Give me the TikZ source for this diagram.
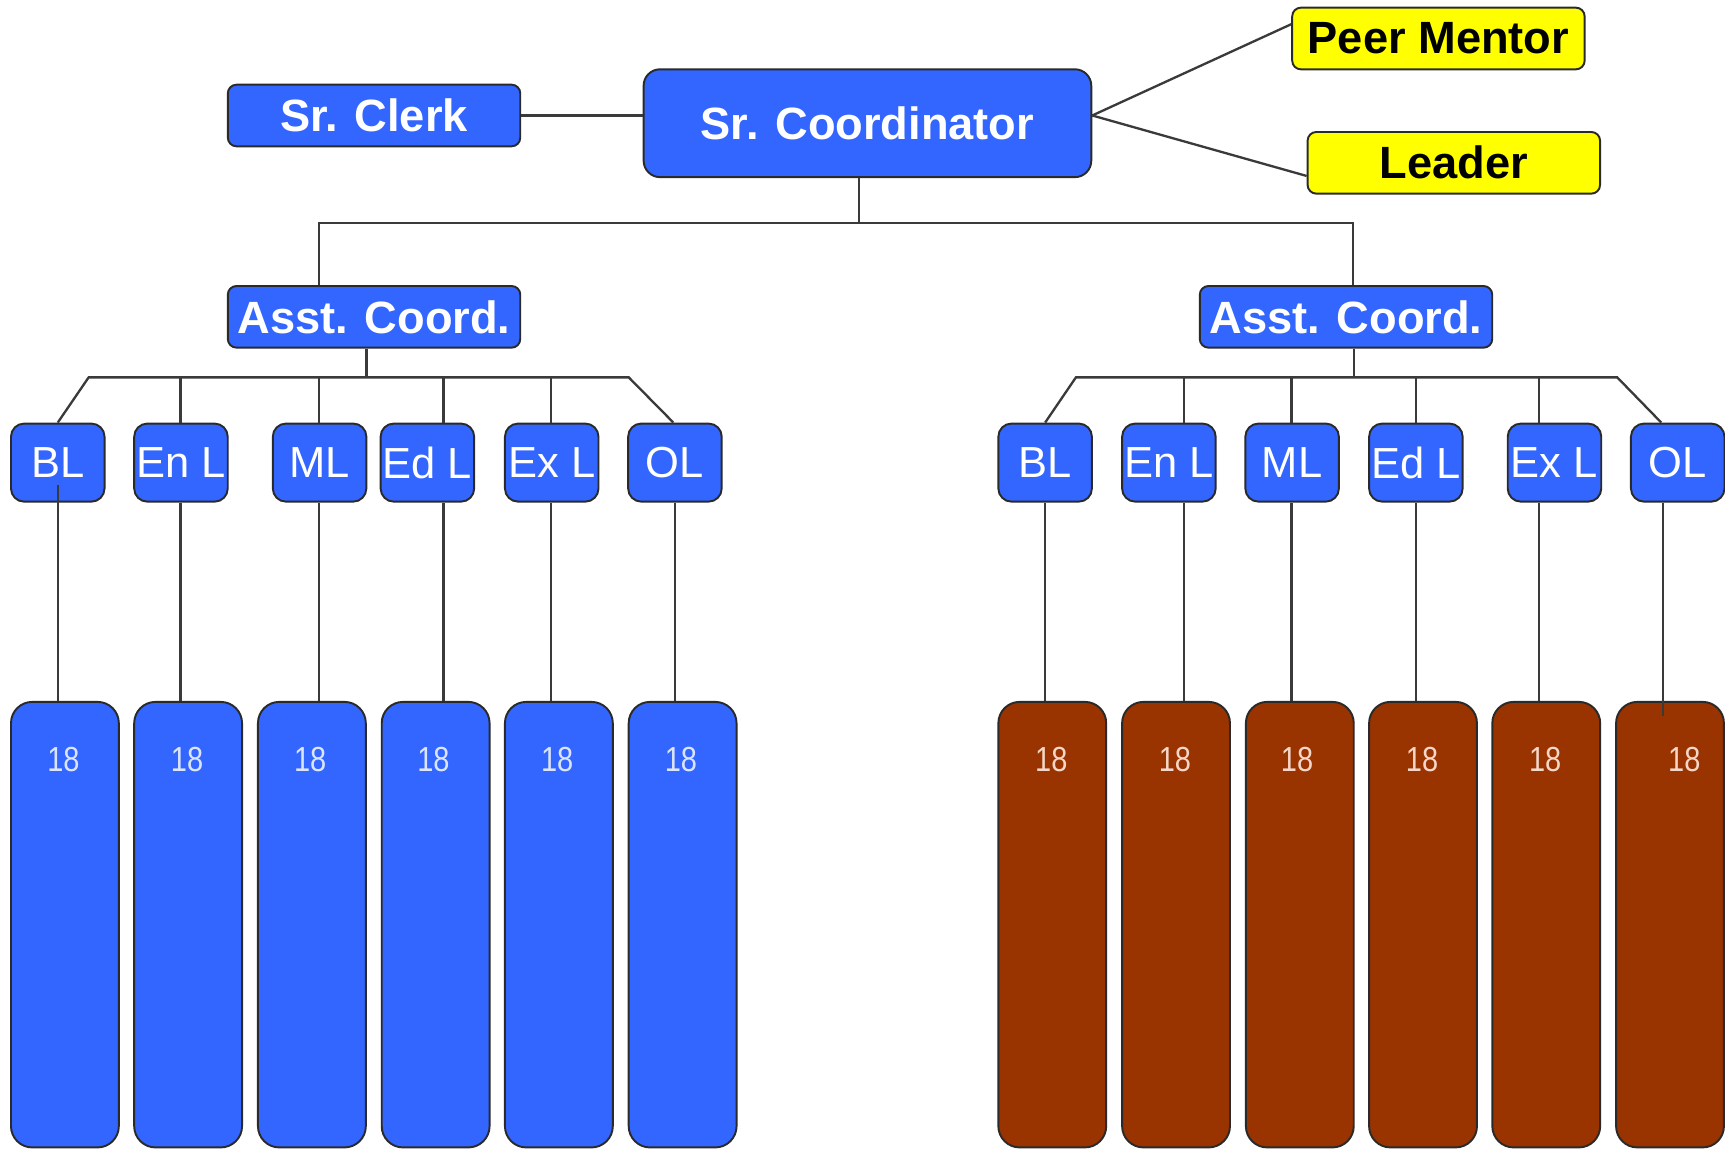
\documentclass[tikz,border=0pt]{standalone}
\usepackage{fontspec}
\setmainfont{Liberation Sans}
\definecolor{boxblue}{HTML}{3366FF}
\definecolor{boxyel}{HTML}{FFFF00}
\definecolor{boxbrn}{HTML}{993300}
\definecolor{edgec}{HTML}{2A2A2A}
\definecolor{linec}{HTML}{3A3A3A}
\definecolor{numblue}{HTML}{DCE5FF}
\definecolor{numbrn}{HTML}{F5D6C8}
\begin{document}
\begin{tikzpicture}[x=0.02cm,y=-0.02cm,
  boxbase/.style={draw=edgec, line width=1pt, inner sep=0pt},
  topbox/.style={boxbase, fill=boxblue, text=white, rounded corners=4.5pt,
    minimum width=151.3pt, minimum height=31.9pt,
    font=\fontsize{23.4}{24}\selectfont\bfseries},
  yelbox/.style={topbox, fill=boxyel, text=black},
  coordbox/.style={topbox, rounded corners=8.5pt, minimum width=231.6pt, minimum height=55.8pt},
  leadbox/.style={boxbase, fill=boxblue, text=white, rounded corners=6.8pt,
    minimum width=48.4pt, minimum height=40.4pt,
    font=\fontsize{22.5}{24}\selectfont},
  bluecol/.style={boxbase, fill=boxblue, rounded corners=11pt,
    minimum width=55.8pt, minimum height=230.5pt},
  brncol/.style={bluecol, fill=boxbrn},
  numb/.style={inner sep=0pt, text=numblue, font=\fontsize{15}{16}\selectfont, yscale=1.2},
  numr/.style={numb, text=numbrn},
  conn/.style={draw=linec, line width=1.2pt}
]
\useasboundingbox (0,0) rectangle (1568,1044);

% top level
\node[topbox] (clerk) at (340,105) {Sr. Clerk};
\node[coordbox] (coord) at (788.5,112) {Sr. Coordinator};
\node[yelbox] (peer) at (1307.5,35) {Peer Mentor};
\node[yelbox] (lead) at (1321.5,148) {Leader};
\node[topbox] (lasst) at (340,288) {Asst. Coord.};
\node[topbox] (rasst) at (1223.5,288) {Asst. Coord.};

% leader boxes left
\node[leadbox] (lBL) at (52.5,420.5) {BL};
\node[leadbox] (lEnL) at (164.5,420.5) {En L};
\node[leadbox] (lML) at (290.5,420.5) {ML};
\node[leadbox] (lEdL) at (388.5,420.5) {Ed L};
\node[leadbox] (lExL) at (501.5,420.5) {Ex L};
\node[leadbox] (lOL) at (613.5,420.5) {OL};
% leader boxes right
\node[leadbox] (rBL) at (950,420.5) {BL};
\node[leadbox] (rEnL) at (1062.5,420.5) {En L};
\node[leadbox] (rML) at (1174.5,420.5) {ML};
\node[leadbox] (rEdL) at (1287,420.5) {Ed L};
\node[leadbox] (rExL) at (1413,420.5) {Ex L};
\node[leadbox] (rOL) at (1525,420.5) {OL};

% columns left
\node[bluecol] (lB1) at (59,840.5) {};
\node[bluecol] (lB2) at (171,840.5) {};
\node[bluecol] (lB3) at (283.5,840.5) {};
\node[bluecol] (lB4) at (396,840.5) {};
\node[bluecol] (lB5) at (508,840.5) {};
\node[bluecol] (lB6) at (620.5,840.5) {};
% columns right
\node[brncol] (rB1) at (956.5,840.5) {};
\node[brncol] (rB2) at (1069,840.5) {};
\node[brncol] (rB3) at (1181.5,840.5) {};
\node[brncol] (rB4) at (1293.5,840.5) {};
\node[brncol] (rB5) at (1405.5,840.5) {};
\node[brncol] (rB6) at (1518,840.5) {};

% numbers
\node[numb] (n1) at (57.7,690) {18};
\node[numb] (n2) at (170,690) {18};
\node[numb] (n3) at (282,690) {18};
\node[numb] (n4) at (394,690) {18};
\node[numb] (n5) at (506.5,690) {18};
\node[numb] (n6) at (619,690) {18};
\node[numr] (m1) at (955.6,690) {18};
\node[numr] (m2) at (1068,690) {18};
\node[numr] (m3) at (1179,690) {18};
\node[numr] (m4) at (1292.6,690) {18};
\node[numr] (m5) at (1404.5,690) {18};
\node[numr] (m6) at (1531,690) {18};

% coordinates for buses
\coordinate (ct) at (781,203);
\coordinate (ta1) at (290,203);
\coordinate (ta2) at (1230,203);
\coordinate (lb) at (333,343);
\coordinate (rb) at (1230.8,343);
\coordinate (lt1) at (80.6,343);
\coordinate (lt2) at (164,343);
\coordinate (lt3) at (290,343);
\coordinate (lt4) at (403,343);
\coordinate (lt5) at (501,343);
\coordinate (lt6) at (571.5,343);
\coordinate (rt1) at (978,343);
\coordinate (rt2) at (1076,343);
\coordinate (rt3) at (1174,343);
\coordinate (rt4) at (1287,343);
\coordinate (rt5) at (1399,343);
\coordinate (rt6) at (1470,343);

% top connectors
\draw[conn] (clerk.east) -- (clerk.east -| coord.west);
\draw[conn] ([yshift=4pt]coord.east) -- ([yshift=7.4pt]peer.west);
\draw[conn] ([yshift=4pt]coord.east) -- ([yshift=-6.8pt]lead.west);
\draw[conn] (ct |- coord.south) -- (ct);
\draw[conn] (ta1 |- lasst.north) -- (ta1) -- (ta2) -- (ta2 |- rasst.north);

% left bus
\draw[conn] (lb |- lasst.south) -- (lb);
\draw[conn] (lBL.north) -- (lt1) -- (lt6) -- ([xshift=-0.8pt]lOL.north);
\draw[conn] (lt2) -- (lt2 |- lEnL.north);
\draw[conn] (lt3) -- (lt3 |- lML.north);
\draw[conn] (lt4) -- (lt4 |- lEdL.north);
\draw[conn] (lt5) -- (lt5 |- lExL.north);
% right bus
\draw[conn] (rb |- rasst.south) -- (rb);
\draw[conn] (rBL.north) -- (rt1) -- (rt6) -- ([xshift=-8.5pt]rOL.north);
\draw[conn] (rt2) -- (rt2 |- rEnL.north);
\draw[conn] (rt3) -- (rt3 |- rML.north);
\draw[conn] (rt4) -- (rt4 |- rEdL.north);
\draw[conn] (rt5) -- (rt5 |- rExL.north);

% leader to columns left
\draw[conn] ([yshift=9.1pt]lBL.south) -- (lBL.south |- lB1.north);
\draw[conn] (lt2 |- lEnL.south) -- (lt2 |- lB2.north);
\draw[conn] (lt3 |- lML.south) -- (lt3 |- lB3.north);
\draw[conn] (lt4 |- lEdL.south) -- (lt4 |- lB4.north);
\draw[conn] (lt5 |- lExL.south) -- (lt5 |- lB5.north);
\draw[conn] (lOL.south) -- (lOL.south |- lB6.north);
% leader to columns right
\draw[conn] (rBL.south) -- (rBL.south |- rB1.north);
\draw[conn] (rt2 |- rEnL.south) -- (rt2 |- rB2.north);
\draw[conn] (rt3 |- rML.south) -- (rt3 |- rB3.north);
\draw[conn] (rt4 |- rEdL.south) -- (rt4 |- rB4.north);
\draw[conn] (rt5 |- rExL.south) -- (rt5 |- rB5.north);
\draw[conn] ([xshift=-7.5pt]rOL.south) -- ([xshift=-7.5pt,yshift=-8pt]rOL.south |- rB6.north);
\end{tikzpicture}
\end{document}
